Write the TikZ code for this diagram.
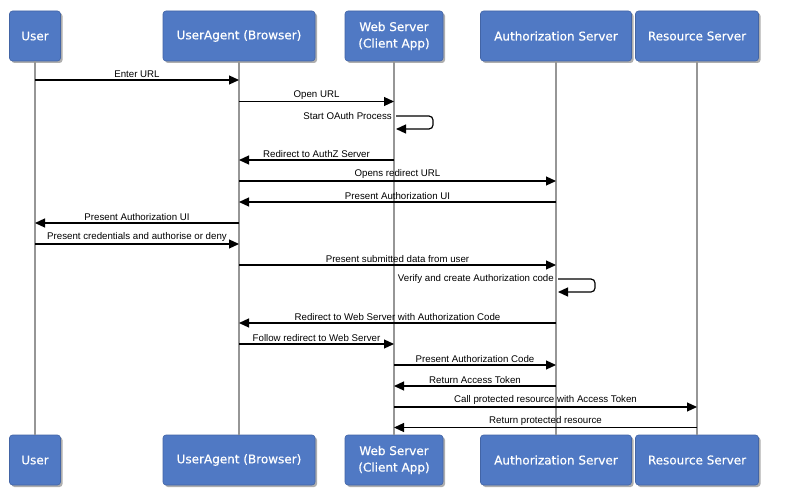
\documentclass[tikz,border=0pt]{standalone}
\usepackage{fontspec}
\setmainfont{Liberation Sans}
\newfontfamily\boxfont[FakeBold=0.5]{DejaVu Sans}
\usetikzlibrary{arrows.meta,shadows}
\definecolor{boxblue}{RGB}{80,121,196}
\definecolor{boxedge}{RGB}{66,100,165}
\definecolor{lifegray}{RGB}{150,150,150}
\begin{document}
\begin{tikzpicture}[x=1pt,y=-1pt,
  actor/.style={rectangle, rounded corners=3pt, fill=boxblue, draw=boxedge,
    line width=0.6pt, text=white, font=\boxfont\fontsize{12}{16.5}\selectfont,
    align=center, minimum height=50pt, inner sep=0pt,
    drop shadow={shadow xshift=2pt, shadow yshift=-2pt, opacity=0.45, fill=black!70}},
  life/.style={draw=lifegray, line width=1.2pt},
  msg/.style={draw=black, line width=1.2pt, -{Triangle[length=10pt,width=9pt]}},
  lbl/.style={above, inner sep=1.5pt, font=\fontsize{9.7}{11}\selectfont},
  slbl/.style={inner sep=2pt, font=\fontsize{9.7}{11}\selectfont}]
\useasboundingbox (0,0) rectangle (796,495);
\fill[white] (0,0) rectangle (796,495);
% top actors
\node[actor, minimum width=51pt]  (u)  at (35,36)   {User};
\node[actor, minimum width=152pt] (ua) at (239,36)  {UserAgent (Browser)};
\node[actor, minimum width=98pt]  (ws) at (394,36)  {Web Server\\(Client App)};
\node[actor, minimum width=151pt] (as) at (556,36)  {Authorization Server};
\node[actor, minimum width=123pt] (rs) at (697,36)  {Resource Server};
% bottom actors
\node[actor, minimum width=51pt]  (u2)  at (35,460)   {User};
\node[actor, minimum width=152pt] (ua2) at (239,460)  {UserAgent (Browser)};
\node[actor, minimum width=98pt]  (ws2) at (394,460)  {Web Server\\(Client App)};
\node[actor, minimum width=151pt] (as2) at (556,460)  {Authorization Server};
\node[actor, minimum width=123pt] (rs2) at (697,460)  {Resource Server};
% lifelines
\draw[life] (u.south)  -- (u2.north);
\draw[life] (ua.south) -- (ua2.north);
\draw[life] (ws.south) -- (ws2.north);
\draw[life] (as.south) -- (as2.north);
\draw[life] (rs.south) -- (rs2.north);
% messages
\draw[msg] (u.center |- 0,80) -- (ua.center |- 0,80) node[midway,lbl] {Enter URL};
\draw[msg] (ua.center |- 0,101.5) -- (ws.center |- 0,101.5) node[midway,lbl] {Open URL};
\draw[msg, rounded corners=4pt] (ws.center |- 0,116) ++(2,0) -- ++(37,0) -- ++(0,13) -- ++(-37,0);
\node[slbl, anchor=east] (l3) at (ws.center |- 0,116) {Start OAuth Process};
\draw[msg] (ws.center |- 0,160) -- (ua.center |- 0,160) node[midway,lbl] {Redirect to AuthZ Server};
\draw[msg] (ua.center |- 0,181) -- (as.center |- 0,181) node[midway,lbl] {Opens redirect URL};
\draw[msg] (as.center |- 0,202) -- (ua.center |- 0,202) node[midway,lbl] {Present Authorization UI};
\draw[msg] (ua.center |- 0,223) -- (u.center |- 0,223) node[midway,lbl] {Present Authorization UI};
\draw[msg] (u.center |- 0,244) -- (ua.center |- 0,244) node[midway,lbl] {Present credentials and authorise or deny};
\draw[msg] (ua.center |- 0,265) -- (as.center |- 0,265) node[midway,lbl] {Present submitted data from user};
\draw[msg, rounded corners=4pt] (as.center |- 0,279) ++(2,0) -- ++(37,0) -- ++(0,13) -- ++(-37,0);
\node[slbl, anchor=east] (l10) at (as.center |- 0,279) {Verify and create Authorization code};
\draw[msg] (as.center |- 0,323) -- (ua.center |- 0,323) node[midway,lbl] {Redirect to Web Server with Authorization Code};
\draw[msg] (ua.center |- 0,344) -- (ws.center |- 0,344) node[midway,lbl] {Follow redirect to Web Server};
\draw[msg] (ws.center |- 0,365) -- (as.center |- 0,365) node[midway,lbl] {Present Authorization Code};
\draw[msg] (as.center |- 0,386) -- (ws.center |- 0,386) node[midway,lbl] {Return Access Token};
\draw[msg] (ws.center |- 0,407) -- (rs.center |- 0,407) node[midway,lbl] {Call protected resource with Access Token};
\draw[msg] (rs.center |- 0,427.5) -- (ws.center |- 0,427.5) node[midway,lbl] {Return protected resource};
\end{tikzpicture}
\end{document}
